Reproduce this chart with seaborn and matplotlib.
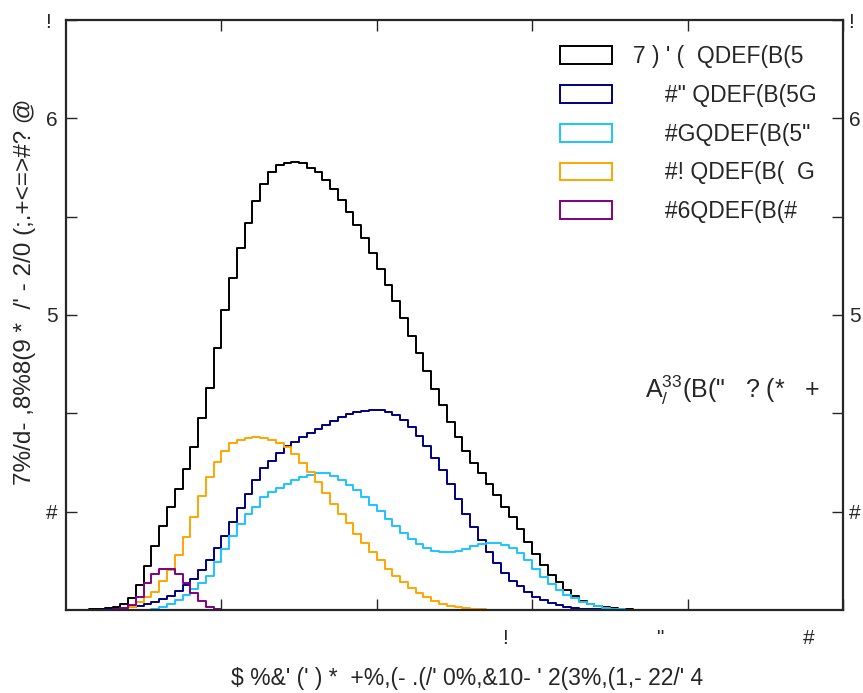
import numpy as np
import pandas as pd
import matplotlib
matplotlib.use("Agg")
import matplotlib.pyplot as plt
import matplotlib.transforms as mtransforms
from matplotlib.patches import Patch
import seaborn as sns

# bin layout: 100 bins over 0..5
n_bins = 100
edges = np.linspace(0, 5, n_bins + 1)
centers = (edges[:-1] + edges[1:]) / 2

# bin contents (start bin index, values)
total_start = 3
total = [0.01, 0.01, 0.02, 0.035, 0.06, 0.12, 0.25, 0.45, 0.65, 0.85,
         1.05, 1.23, 1.43, 1.66, 1.95, 2.26, 2.66, 3.05, 3.38, 3.68,
         3.94, 4.16, 4.33, 4.45, 4.53, 4.55, 4.56, 4.55, 4.50, 4.45,
         4.37, 4.28, 4.17, 4.05, 3.92, 3.78, 3.63, 3.47, 3.31, 3.14,
         2.97, 2.79, 2.61, 2.43, 2.25, 2.08, 1.91, 1.76, 1.62, 1.50,
         1.39, 1.28, 1.17, 1.05, 0.95, 0.82, 0.69, 0.57, 0.46, 0.36,
         0.28, 0.20, 0.14, 0.094, 0.06, 0.04, 0.03, 0.02, 0.012, 0.006, 0.003]

navy_start = 3
navy = [0.003, 0.005, 0.008, 0.012, 0.015, 0.03, 0.04, 0.06, 0.085, 0.11,
        0.14, 0.19, 0.25, 0.32, 0.41, 0.51, 0.63, 0.75, 0.89, 1.04,
        1.18, 1.32, 1.44, 1.52, 1.60, 1.67, 1.71, 1.76, 1.80, 1.84,
        1.88, 1.92, 1.96, 1.99, 2.01, 2.02, 2.03, 2.03, 2.01, 1.98,
        1.93, 1.86, 1.77, 1.67, 1.55, 1.42, 1.28, 1.13, 0.98, 0.84,
        0.71, 0.59, 0.48, 0.38, 0.30, 0.24, 0.18, 0.135, 0.10, 0.074,
        0.05, 0.035, 0.025, 0.015, 0.01, 0.006, 0.003, 0.001]

cyan_start = 10
cyan = [0.005, 0.015, 0.035, 0.06, 0.10, 0.15, 0.21, 0.27, 0.345, 0.49,
        0.625, 0.75, 0.87, 0.98, 1.05, 1.15, 1.20, 1.24, 1.28, 1.32,
        1.35, 1.375, 1.39, 1.39, 1.36, 1.32, 1.27, 1.22, 1.15, 1.07,
        1.01, 0.93, 0.85, 0.78, 0.72, 0.67, 0.63, 0.60, 0.59, 0.59,
        0.60, 0.625, 0.65, 0.67, 0.68, 0.68, 0.665, 0.63, 0.58, 0.51,
        0.42, 0.34, 0.26, 0.20, 0.15, 0.12, 0.085, 0.06, 0.04, 0.025,
        0.015, 0.008, 0.004]

orange_start = 6
orange = [0.004, 0.01, 0.035, 0.085, 0.135, 0.185, 0.29, 0.41, 0.56, 0.74,
          0.95, 1.155, 1.35, 1.51, 1.62, 1.70, 1.73, 1.75, 1.76, 1.75,
          1.73, 1.70, 1.655, 1.59, 1.50, 1.40, 1.30, 1.19, 1.08, 0.98,
          0.88, 0.77, 0.68, 0.59, 0.51, 0.42, 0.345, 0.28, 0.225, 0.17,
          0.13, 0.09, 0.06, 0.04, 0.03, 0.02, 0.012, 0.007, 0.004, 0.002]

purple_start = 4
purple = [0.002, 0.004, 0.008, 0.02, 0.05, 0.135, 0.27, 0.37, 0.42, 0.415,
          0.37, 0.27, 0.17, 0.09, 0.035, 0.01, 0.004, 0.002]

labels = ["7 ) ' (  QDEF(B(5",
          "     #\" QDEF(B(5G",
          "     #GQDEF(B(5\"",
          "     #! QDEF(B(  G",
          "     #6QDEF(B(#"]
colors = ["black", "#000080", "#1cc4ff", "#ffa500", "#800080"]

x_ticklabels = ["", "", "!    ", "\"    ", "#     "]
y_ticklabels = ["#", "", "5", "", "6", "! "]
x_title = "\\$ %&' (' ) *  +%,(- .(/' 0%,&10- ' 2(3%,(1,- 22/' 4"
y_title = "7%/d- ,8%8(9 *  /' - 2/0 (;.+<=>#? @"
note = "A$_{/}^{33}$(B(\"   ? (*   +"


def full(start, vals):
    arr = np.zeros(n_bins)
    arr[start:start + len(vals)] = vals
    return arr


sns.set_style("ticks")
plt.rcParams["font.family"] = ["Liberation Sans", "DejaVu Sans"]
plt.rcParams["mathtext.fontset"] = "custom"
plt.rcParams["mathtext.rm"] = "Liberation Sans"
plt.rcParams["mathtext.it"] = "Liberation Sans"

fig = plt.figure(figsize=(8.63, 6.93), dpi=100)
ax = fig.add_axes([66 / 863, 83 / 693, 777 / 863, 590 / 693])

series = [(total_start, total), (navy_start, navy), (cyan_start, cyan),
          (orange_start, orange), (purple_start, purple)]
for (start, vals), c in zip(series, colors):
    df = pd.DataFrame({"x": centers, "w": full(start, vals)})
    sns.histplot(data=df, x="x", weights="w", bins=edges.tolist(),
                 element="step", fill=False, color=c, linewidth=1.4, ax=ax)

ax.set_xlim(0, 5)
ax.set_ylim(0, 6)
ax.set_xticks([1, 2, 3, 4, 5])
ax.set_xticklabels(x_ticklabels, fontsize=15, ha="right")
ax.set_yticks([1, 2, 3, 4, 5, 6])
ax.set_yticklabels(y_ticklabels, fontsize=15)
ax.tick_params(direction="in", length=8, width=1, top=True, right=True,
               labelright=True)
ax.tick_params(axis="y", pad=6)
ax.tick_params(axis="x", pad=14)
for s in ax.spines.values():
    s.set_linewidth(1.6)

# right-hand labels sit closer to the frame
shift = mtransforms.ScaledTranslation(-2 / 100, 0, fig.dpi_scale_trans)
for t in ax.yaxis.get_major_ticks():
    t.label2.set_transform(t.label2.get_transform() + shift)

ax.set_xlabel(x_title, fontsize=16.5)
ax.set_ylabel(y_title, fontsize=17.5)
ax.xaxis.set_label_coords(0.516, -0.096)
ax.yaxis.set_label_coords(-0.039, 0.54)

handles = [Patch(facecolor="none", edgecolor=c, linewidth=1.4) for c in colors]
ax.legend(handles, labels, loc="upper left", bbox_to_anchor=(560 / 863, 1 - 45 / 693),
          bbox_transform=fig.transFigure, frameon=False, fontsize=16.5,
          handlelength=2.27, handleheight=0.83, handletextpad=0.9,
          labelspacing=0.69, borderpad=0, borderaxespad=0)

ax.text(0.745, 0.36, note, transform=ax.transAxes, fontsize=18, va="baseline")

fig.savefig("out.png", dpi=100)
